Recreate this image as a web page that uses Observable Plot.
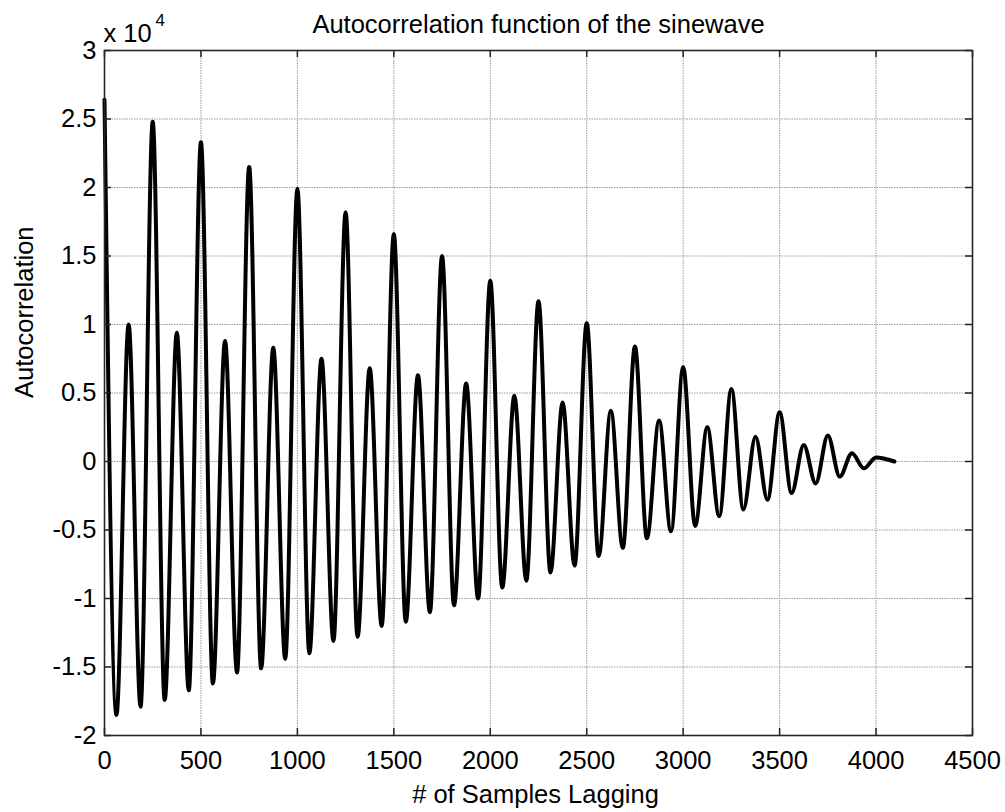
<!DOCTYPE html>
<html>
<head>
<meta charset="utf-8">
<script src="https://cdn.jsdelivr.net/npm/d3@7"></script>
<script src="https://cdn.jsdelivr.net/npm/@observablehq/plot@0.6"></script>
<style>
  html, body { margin: 0; padding: 0; background: #fff; }
  #chart svg { display: block; }
</style>
</head>
<body>
<div id="chart"></div>
<script>
// Lag (samples) of each local extreme
const lags = [
  0, 62, 125, 187, 250, 312, 375, 437, 500, 562, 625, 687,
  750, 812, 875, 937, 1000, 1062, 1125, 1187, 1250, 1312, 1375, 1437,
  1500, 1562, 1625, 1687, 1750, 1812, 1875, 1937, 2000, 2062, 2125, 2187,
  2250, 2312, 2375, 2437, 2500, 2562, 2625, 2687, 2750, 2812, 2875, 2937,
  3000, 3062, 3125, 3187, 3250, 3312, 3375, 3437, 3500, 3562, 3625, 3687,
  3750, 3812, 3875, 3937, 4000, 4095
];
// Autocorrelation value at each of those lags
const values = [
  26400, -18500, 10000, -17900, 24800, -17400, 9400, -16700, 23300, -16200, 8800, -15400,
  21500, -15100, 8300, -14400, 19900, -14000, 7500, -13100, 18200, -12800, 6800, -12000,
  16600, -11700, 6300, -11000, 15000, -10500, 5700, -10000, 13200, -9200, 4800, -8700,
  11700, -8100, 4300, -7600, 10100, -6900, 3700, -6300, 8400, -5600, 3000, -5100,
  6900, -4700, 2500, -4000, 5300, -3500, 1800, -2800, 3600, -2300, 1200, -1600,
  1900, -1100, 600, -500, 300, 0
];
const xTicks = [0, 500, 1000, 1500, 2000, 2500, 3000, 3500, 4000, 4500];
const yTicks = [-2, -1.5, -1, -0.5, 0, 0.5, 1, 1.5, 2, 2.5, 3];
const titleText = "Autocorrelation function of the sinewave";
const xLabel = "# of Samples Lagging";
const yLabel = "Autocorrelation";
const exponentBase = "x 10";
const exponent = "4";

const data = lags.map((lag, i) => ({lag, value: values[i]}));
const yTickRaw = yTicks.map(d => d * 1e4);

const W = 1005, H = 812;
const mL = 104, mR = 33, mT = 50, mB = 77;
const fw = W - mL - mR, fh = H - mT - mB;
const tk = 7;
const fs = 25.5;
const font = "'Liberation Sans', Arial, Helvetica, sans-serif";
const ink = "#000";
const gridStyle = {stroke: "#9c9c9c", strokeOpacity: 1, strokeDasharray: "1.5,1", strokeWidth: 1};

const chart = Plot.plot({
  width: W,
  height: H,
  marginLeft: mL,
  marginRight: mR,
  marginTop: mT,
  marginBottom: mB,
  style: {fontFamily: font, fontSize: fs + "px", color: ink, background: "#fff"},
  x: {domain: [0, 4500], ticks: xTicks},
  y: {domain: [-2, 3], transform: v => v / 1e4, ticks: yTicks},
  marks: [
    Plot.gridX(xTicks, gridStyle),
    Plot.gridY(yTickRaw, gridStyle),
    Plot.line(data, {x: "lag", y: "value", stroke: "#000", strokeWidth: 4, curve: "monotone-x", strokeLinejoin: "round"}),
    // inward ticks on all four sides
    Plot.tickY(yTickRaw, {stroke: "#222", strokeWidth: 1.5, insetRight: fw - tk}),
    Plot.tickY(yTickRaw, {stroke: "#222", strokeWidth: 1.5, insetLeft: fw - tk}),
    Plot.tickX(xTicks, {stroke: "#222", strokeWidth: 1.5, insetTop: fh - tk}),
    Plot.tickX(xTicks, {stroke: "#222", strokeWidth: 1.5, insetBottom: fh - tk}),
    Plot.frame({stroke: "#262626", strokeWidth: 1.6}),
    Plot.axisX(xTicks, {anchor: "bottom", tickSize: 0, tickPadding: 15, tickFormat: d => String(d), label: null, fontSize: fs, fill: ink}),
    Plot.axisY(yTickRaw, {anchor: "left", tickSize: 0, tickPadding: 8, tickFormat: d => String(d / 1e4), label: null, fontSize: fs, fill: ink}),
    Plot.text([titleText], {frameAnchor: "top", dy: -18, lineAnchor: "bottom", fontSize: fs, fill: ink}),
    Plot.text([exponentBase], {frameAnchor: "top-left", dx: -1, dy: -9, lineAnchor: "bottom", textAnchor: "start", fontSize: fs, fill: ink}),
    Plot.text([exponent], {frameAnchor: "top-left", dx: 51, dy: -25, lineAnchor: "bottom", textAnchor: "start", fontSize: 17, fill: ink}),
    Plot.text([xLabel], {frameAnchor: "bottom", dx: -3, dy: 67, lineAnchor: "bottom", fontSize: fs, fill: ink}),
    Plot.text([yLabel], {frameAnchor: "left", dx: -80, dy: 5, rotate: -90, lineAnchor: "middle", fontSize: fs, fill: ink})
  ]
});
document.getElementById("chart").appendChild(chart);
</script>
</body>
</html>
